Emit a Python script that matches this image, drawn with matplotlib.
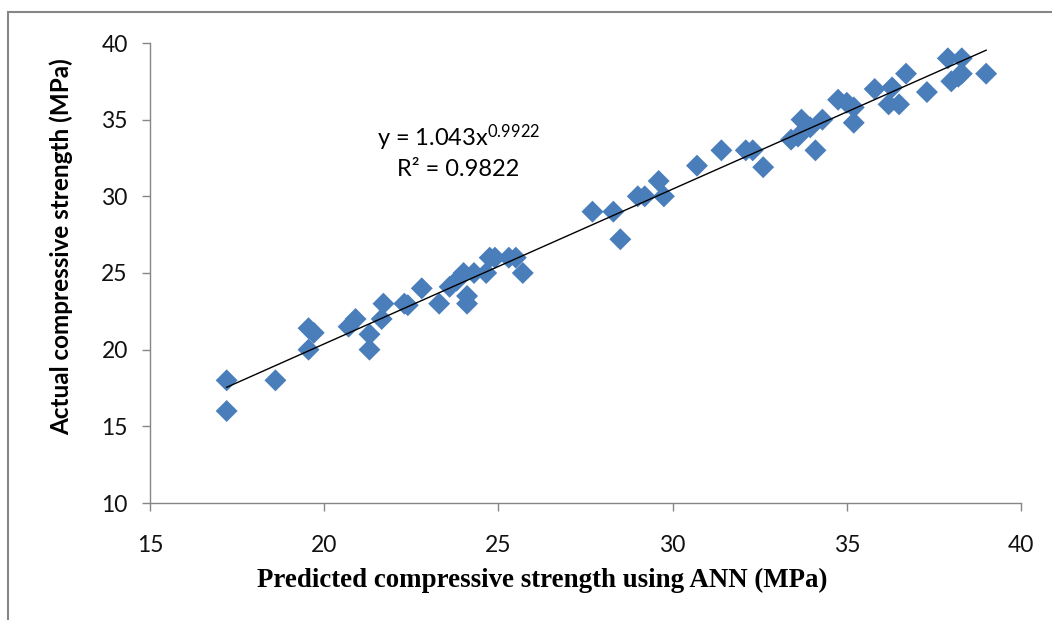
import numpy as np
import matplotlib
matplotlib.use("Agg")
import matplotlib.pyplot as plt
from matplotlib.patches import Rectangle

plt.rcParams['mathtext.fontset'] = 'custom'
plt.rcParams['mathtext.rm'] = 'Lato'
plt.rcParams['mathtext.it'] = 'Lato'

predicted = [17.2, 17.2, 18.6, 19.55, 19.7, 19.55, 20.7, 20.9, 21.3, 21.3,
             21.7, 21.65, 22.3, 22.4, 22.8, 23.3, 23.6, 23.8, 24.0, 24.3,
             24.1, 24.1, 24.65, 24.75, 24.9, 25.3, 25.5, 25.7, 27.7, 28.3,
             28.5, 29.0, 29.2, 29.6, 29.75, 30.7, 31.4, 32.1, 32.3, 32.6,
             33.4, 33.6, 33.7, 33.95, 34.1, 34.3, 34.75, 35.0, 35.2, 35.2,
             35.8, 36.2, 36.3, 36.5, 36.7, 37.3, 37.9, 38.3, 38.0, 38.2,
             38.3, 39.0]
actual = [18.0, 16.0, 18.0, 21.4, 21.1, 20.0, 21.5, 22.0, 21.0, 20.0,
          23.0, 22.0, 23.0, 22.9, 24.0, 23.0, 24.1, 24.5, 25.0, 25.0,
          23.5, 23.0, 25.0, 26.0, 26.0, 26.0, 26.0, 25.0, 29.0, 29.0,
          27.2, 30.0, 30.0, 31.0, 30.0, 32.0, 33.0, 33.0, 33.0, 31.9,
          33.7, 33.9, 35.0, 34.5, 33.0, 35.0, 36.3, 36.1, 35.8, 34.8,
          37.0, 36.0, 37.1, 36.0, 38.0, 36.8, 39.0, 39.0, 37.5, 37.8,
          38.0, 38.0]
coef_a = 1.043
coef_b = 0.9922
r2 = 0.9822
xticks = [15, 20, 25, 30, 35, 40]
yticks = [10, 15, 20, 25, 30, 35, 40]

W, H = 1052, 620
fig = plt.figure(figsize=(W / 100, H / 100), dpi=100)
fig.patch.set_facecolor('white')
ax = fig.add_axes([150 / W, 1 - 503 / H, (1021 - 150) / W, (503 - 43) / H])

ax.scatter(predicted, actual, marker='D', s=125, color='#4A7EBB', edgecolors='none', zorder=3)

xs = np.linspace(min(predicted), max(predicted), 200)
ax.plot(xs, coef_a * xs ** coef_b, color='black', lw=1.0, zorder=4)

ax.set_xlim(15, 40)
ax.set_ylim(10, 40)
ax.set_xticks(xticks)
ax.set_yticks(yticks)
ax.tick_params(axis='both', labelsize=16.5, colors='#868686', labelcolor='#111111', length=6, width=1, direction='out')
for lbl in ax.get_xticklabels() + ax.get_yticklabels():
    lbl.set_family('Lato')
ax.tick_params(axis='x', pad=17)
ax.tick_params(axis='y', pad=10)
for s in ['top', 'right']:
    ax.spines[s].set_visible(False)
for s in ['left', 'bottom']:
    ax.spines[s].set_color('#868686')
    ax.spines[s].set_linewidth(1)

fig.text(61 / W, 1 - 247 / H, 'Actual compressive strength (MPa)', family='Lato', fontweight='bold',
         fontsize=17.5, rotation=90, ha='center', va='center')
fig.text(542 / W, 1 - 580 / H, 'Predicted compressive strength using ANN (MPa)', family='Liberation Serif',
         fontweight='bold', fontsize=19.4, ha='center', va='center')

ax.text(23.85, 33.8, r'y = 1.043x$^{0.9922}$', ha='center', va='center', family='Lato', fontsize=17)
ax.text(23.85, 31.72, 'R² = 0.9822', ha='center', va='center', family='Lato', fontsize=17)

fig.patches.append(Rectangle((8 / W, -0.1), 1.2, (H - 12) / H + 0.1, transform=fig.transFigure,
                             fill=False, edgecolor='#868686', lw=1.5))

fig.savefig('out.png', dpi=100)
